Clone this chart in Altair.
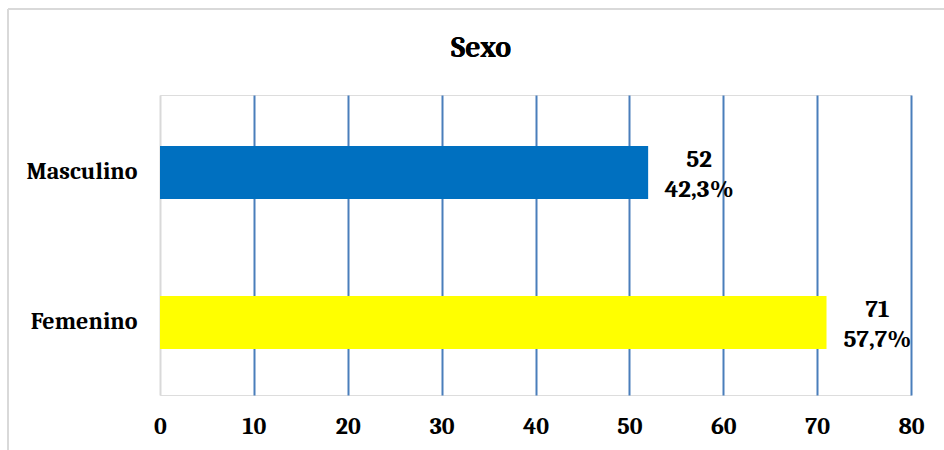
import altair as alt
import pandas as pd

categories = ["Masculino", "Femenino"]
counts = [52, 71]
percents = ["42,3%", "57,7%"]
colors = ["#0070c0", "#ffff00"]
title_text = "Sexo"

df = pd.DataFrame({
    "cat": categories,
    "n": counts,
    "pct": percents,
    "color": colors,
})
df["label"] = df["n"].astype(str) + "\n" + df["pct"]

FONT = "Cambria, Liberation Serif, serif"

base = alt.Chart(df)

bars = base.mark_bar(size=53, yOffset=2.5).encode(
    x=alt.X("n:Q", scale=alt.Scale(domain=[0, 80]),
            axis=alt.Axis(values=list(range(0, 81, 10)), title=None, grid=True,
                          domain=False, ticks=False, labelPadding=19, labelFlush=False,
                          labelFont=FONT, labelFontSize=24, labelFontWeight="bold",
                          labelColor="#000000",
                          gridColor=alt.condition("datum.value === 0", alt.value("#d9d9d9"), alt.value("#4a7ebb")),
                          gridWidth=2)),
    y=alt.Y("cat:N", sort=categories,
            axis=alt.Axis(title=None, domain=False, ticks=False, labelPadding=23,
                          labelOffset=2,
                          labelFont=FONT, labelFontSize=24, labelFontWeight="bold",
                          labelColor="#000000")),
    color=alt.Color("color:N", scale=None),
)

text = base.mark_text(align="center", baseline="middle", dx=51, dy=-11,
                      lineBreak="\n", lineHeight=30, font=FONT, fontSize=25,
                      fontWeight="bold", color="#000000").encode(
    x="n:Q",
    y=alt.Y("cat:N", sort=categories),
    text="label:N",
)

title = alt.Chart(df).mark_text(font=FONT, fontSize=30, fontWeight="bold",
                                color="#000000", align="center", baseline="middle").encode(
    x=alt.value(321), y=alt.value(-47), text=alt.value(title_text)
)

frame_top = alt.Chart(df).mark_rule(color="#d9d9d9", strokeWidth=2).encode(
    x=alt.value(-152), x2=alt.value(800), y=alt.value(-86)
)
frame_left = alt.Chart(df).mark_rule(color="#d9d9d9", strokeWidth=2).encode(
    x=alt.value(-152), y=alt.value(-86), y2=alt.value(400)
)

chart = alt.layer(frame_top, frame_left, bars, text, title).properties(
    width=751, height=300,
    autosize=alt.AutoSizeParams(type="none"),
    padding={"left": 160, "top": 95, "right": 33, "bottom": 55},
).configure_view(stroke=None).configure(background="#ffffff")

chart.save("out.html", embed_options={"renderer": "svg", "actions": False})
